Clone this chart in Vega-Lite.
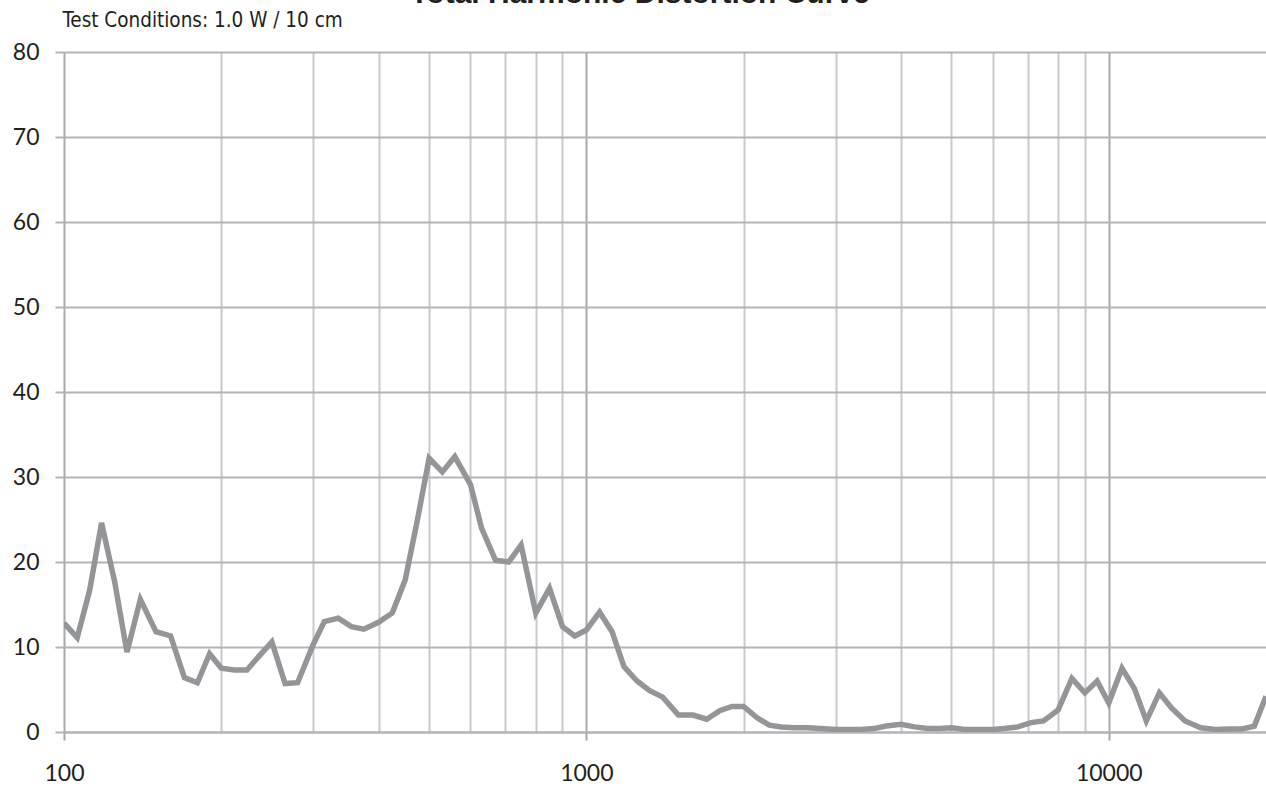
{
  "$schema": "https://vega.github.io/schema/vega-lite/v6.json",
  "width": 1202,
  "height": 680,
  "autosize": {"type": "none"},
  "padding": {"left": 64, "top": 52, "right": 0, "bottom": 58},
  "background": "white",
  "title": {
    "text": "Total Harmonic Distortion Curve",
    "anchor": "middle",
    "frame": "group",
    "dx": -25,
    "dy": 23,
    "font": "Liberation Sans",
    "fontSize": 30,
    "fontWeight": "bold",
    "color": "#231f20",
    "baseline": "alphabetic",
    "offset": 0
  },
  "config": {"view": {"stroke": null}},
  "data": {
    "values": [
      {"f": 100, "thd": 12.8}, {"f": 106, "thd": 11.1}, {"f": 112, "thd": 16.7}, {"f": 118, "thd": 24.6},
      {"f": 125, "thd": 17.7}, {"f": 132, "thd": 9.4}, {"f": 140, "thd": 15.6}, {"f": 150, "thd": 11.8},
      {"f": 160, "thd": 11.3}, {"f": 170, "thd": 6.4}, {"f": 180, "thd": 5.8}, {"f": 190, "thd": 9.2},
      {"f": 200, "thd": 7.5}, {"f": 212, "thd": 7.3}, {"f": 224, "thd": 7.3}, {"f": 236, "thd": 8.9},
      {"f": 250, "thd": 10.6}, {"f": 265, "thd": 5.7}, {"f": 280, "thd": 5.8}, {"f": 300, "thd": 10.3},
      {"f": 315, "thd": 13.0}, {"f": 335, "thd": 13.4}, {"f": 355, "thd": 12.4}, {"f": 375, "thd": 12.1},
      {"f": 400, "thd": 12.9}, {"f": 425, "thd": 14.0}, {"f": 450, "thd": 17.9}, {"f": 475, "thd": 25.0},
      {"f": 500, "thd": 32.2}, {"f": 530, "thd": 30.6}, {"f": 560, "thd": 32.4}, {"f": 600, "thd": 29.1},
      {"f": 630, "thd": 24.0}, {"f": 670, "thd": 20.2}, {"f": 710, "thd": 20.0}, {"f": 750, "thd": 22.0},
      {"f": 800, "thd": 14.0}, {"f": 850, "thd": 16.9}, {"f": 900, "thd": 12.4}, {"f": 950, "thd": 11.3},
      {"f": 1000, "thd": 12.0}, {"f": 1060, "thd": 14.1}, {"f": 1120, "thd": 11.8}, {"f": 1180, "thd": 7.7},
      {"f": 1250, "thd": 6.0}, {"f": 1320, "thd": 4.9}, {"f": 1400, "thd": 4.1}, {"f": 1500, "thd": 2.0},
      {"f": 1600, "thd": 2.0}, {"f": 1700, "thd": 1.5}, {"f": 1800, "thd": 2.5}, {"f": 1900, "thd": 3.0},
      {"f": 2000, "thd": 3.0}, {"f": 2120, "thd": 1.7}, {"f": 2240, "thd": 0.8}, {"f": 2360, "thd": 0.6},
      {"f": 2500, "thd": 0.5}, {"f": 2650, "thd": 0.5}, {"f": 2800, "thd": 0.4}, {"f": 3000, "thd": 0.3},
      {"f": 3150, "thd": 0.3}, {"f": 3350, "thd": 0.3}, {"f": 3550, "thd": 0.4}, {"f": 3750, "thd": 0.7},
      {"f": 4000, "thd": 0.9}, {"f": 4250, "thd": 0.6}, {"f": 4500, "thd": 0.4}, {"f": 4750, "thd": 0.4},
      {"f": 5000, "thd": 0.5}, {"f": 5300, "thd": 0.3}, {"f": 5600, "thd": 0.3}, {"f": 6000, "thd": 0.3},
      {"f": 6300, "thd": 0.4}, {"f": 6700, "thd": 0.6}, {"f": 7100, "thd": 1.1}, {"f": 7500, "thd": 1.3},
      {"f": 8000, "thd": 2.6}, {"f": 8500, "thd": 6.3}, {"f": 9000, "thd": 4.6}, {"f": 9500, "thd": 6.0},
      {"f": 10000, "thd": 3.4}, {"f": 10600, "thd": 7.5}, {"f": 11200, "thd": 5.1}, {"f": 11800, "thd": 1.3},
      {"f": 12500, "thd": 4.6}, {"f": 13200, "thd": 2.8}, {"f": 14000, "thd": 1.3}, {"f": 15000, "thd": 0.5},
      {"f": 16000, "thd": 0.3}, {"f": 17000, "thd": 0.35}, {"f": 18000, "thd": 0.35}, {"f": 19000, "thd": 0.7},
      {"f": 20000, "thd": 4.2}
    ]
  },
  "mark": {"type": "line", "color": "#939598", "strokeWidth": 5.5, "clip": true},
  "encoding": {
    "x": {
      "field": "f",
      "type": "quantitative",
      "scale": {"type": "log", "domain": [100, 20000], "nice": false},
      "axis": {
        "values": [100, 200, 300, 400, 500, 600, 700, 800, 900, 1000, 2000, 3000, 4000, 5000, 6000, 7000, 8000, 9000, 10000],
        "labelExpr": "(datum.value == 100 || datum.value == 1000 || datum.value == 10000) ? format(datum.value, 'd') : ''",
        "grid": true,
        "gridColor": {"condition": {"test": "datum.value == 100 || datum.value == 1000 || datum.value == 10000", "value": "#a7a9ac"}, "value": "#c8c9cb"},
        "gridWidth": 2,
        "tickColor": {"condition": {"test": "datum.value == 100 || datum.value == 1000 || datum.value == 10000", "value": "#a7a9ac"}, "value": "transparent"},
        "tickSize": 8,
        "tickWidth": 2,
        "domain": true,
        "domainColor": "#b4b4b4",
        "domainWidth": 2,
        "labelFont": "Lato",
        "labelFontSize": 23,
        "labelColor": "#231f20",
        "labelPadding": 22,
        "labelFlush": false,
        "labelOverlap": false,
        "title": null
      }
    },
    "y": {
      "field": "thd",
      "type": "quantitative",
      "scale": {"domain": [0, 80], "nice": false},
      "axis": {
        "values": [0, 10, 20, 30, 40, 50, 60, 70, 80],
        "grid": true,
        "gridColor": "#b4b4b4",
        "gridWidth": 2,
        "tickColor": "#b4b4b4",
        "tickSize": 9,
        "tickWidth": 2,
        "domain": false,
        "labelFont": "Lato",
        "labelFontSize": 23,
        "labelColor": "#231f20",
        "labelPadding": 16,
        "title": "Test Conditions: 1.0 W / 10 cm",
        "titleAngle": 0,
        "titleAlign": "left",
        "titleBaseline": "alphabetic",
        "titleX": -2,
        "titleY": -26,
        "titleFont": "DejaVu Sans Condensed",
        "titleFontSize": 20.5,
        "titleFontWeight": "normal",
        "titleColor": "#231f20"
      }
    }
  }
}
